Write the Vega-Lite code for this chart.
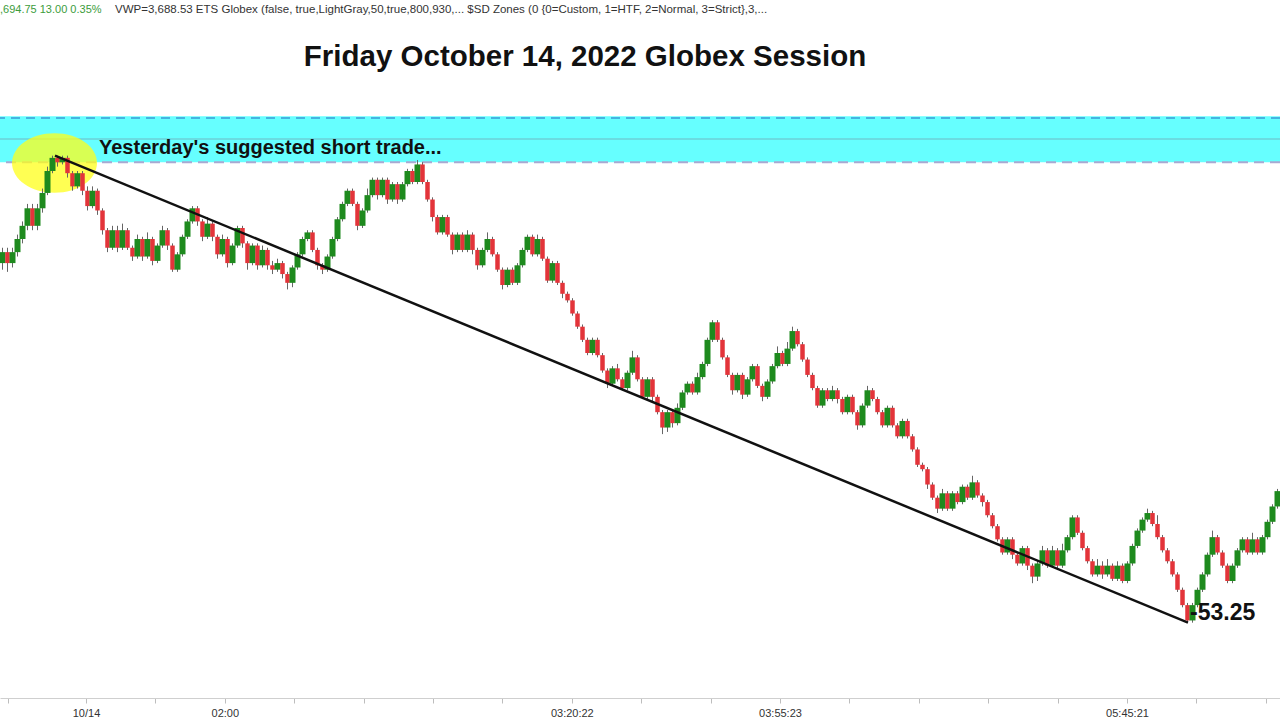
{
  "$schema": "https://vega.github.io/schema/vega-lite/v6.json",
  "width": 1280,
  "height": 698,
  "autosize": {"type": "none"},
  "padding": {"left": 0, "top": 0, "right": 0, "bottom": 22},
  "background": "white",
  "config": {"view": {"stroke": null}, "scale": {"continuousPadding": 0}},
  "datasets": {
    "candles": [
      {"i":0,"o":3721.25,"c":3722.5,"h":3723,"l":3720.5},
      {"i":1,"o":3722.5,"c":3721.25,"h":3723,"l":3720.25},
      {"i":2,"o":3721.25,"c":3722.5,"h":3723,"l":3720.75},
      {"i":3,"o":3722.5,"c":3724,"h":3724.5,"l":3722},
      {"i":4,"o":3724,"c":3725.5,"h":3726,"l":3723.5},
      {"i":5,"o":3725.5,"c":3727.5,"h":3728,"l":3725},
      {"i":6,"o":3727.5,"c":3725.5,"h":3728,"l":3725},
      {"i":7,"o":3725.5,"c":3727.5,"h":3728,"l":3725},
      {"i":8,"o":3727.5,"c":3729.25,"h":3729.75,"l":3727},
      {"i":9,"o":3729.25,"c":3731.75,"h":3732.25,"l":3729},
      {"i":10,"o":3731.75,"c":3733.25,"h":3733.5,"l":3731.5},
      {"i":11,"o":3733.25,"c":3732.75,"h":3733.5,"l":3732.25},
      {"i":12,"o":3732.75,"c":3733.25,"h":3733.5,"l":3732.5},
      {"i":13,"o":3733.25,"c":3731.5,"h":3733.5,"l":3731},
      {"i":14,"o":3731.5,"c":3730,"h":3731.75,"l":3729.5},
      {"i":15,"o":3730,"c":3731.5,"h":3731.75,"l":3729.75},
      {"i":16,"o":3731.5,"c":3729.5,"h":3731.75,"l":3729},
      {"i":17,"o":3729.5,"c":3727.75,"h":3730,"l":3727.25},
      {"i":18,"o":3727.75,"c":3729.5,"h":3730,"l":3727.5},
      {"i":19,"o":3729.5,"c":3727.25,"h":3729.75,"l":3726.75},
      {"i":20,"o":3727.25,"c":3725,"h":3727.5,"l":3724.5},
      {"i":21,"o":3725,"c":3723,"h":3725.25,"l":3722.5},
      {"i":22,"o":3723,"c":3725,"h":3725.5,"l":3722.75},
      {"i":23,"o":3725,"c":3723,"h":3725.5,"l":3722.5},
      {"i":24,"o":3723,"c":3725,"h":3725.75,"l":3722.75},
      {"i":25,"o":3725,"c":3723,"h":3725.25,"l":3722.75},
      {"i":26,"o":3723,"c":3722,"h":3723.25,"l":3721.5},
      {"i":27,"o":3722,"c":3724,"h":3724.5,"l":3721.75},
      {"i":28,"o":3724,"c":3722,"h":3724.25,"l":3721.5},
      {"i":29,"o":3722,"c":3724,"h":3724.75,"l":3721.75},
      {"i":30,"o":3724,"c":3721.5,"h":3724.25,"l":3721},
      {"i":31,"o":3721.5,"c":3723.25,"h":3723.5,"l":3721.25},
      {"i":32,"o":3723.25,"c":3725,"h":3725.5,"l":3723},
      {"i":33,"o":3725,"c":3723.25,"h":3725.25,"l":3722.75},
      {"i":34,"o":3723.25,"c":3720.5,"h":3723.5,"l":3720.25},
      {"i":35,"o":3720.5,"c":3722.25,"h":3722.5,"l":3720.25},
      {"i":36,"o":3722.25,"c":3724.25,"h":3724.5,"l":3722},
      {"i":37,"o":3724.25,"c":3726,"h":3726.25,"l":3724},
      {"i":38,"o":3726,"c":3727.5,"h":3727.75,"l":3725.75},
      {"i":39,"o":3727.5,"c":3726,"h":3727.75,"l":3725.5},
      {"i":40,"o":3726,"c":3724.25,"h":3726.25,"l":3723.75},
      {"i":41,"o":3724.25,"c":3725.75,"h":3726.5,"l":3724},
      {"i":42,"o":3725.75,"c":3724.25,"h":3726,"l":3723.75},
      {"i":43,"o":3724.25,"c":3722.25,"h":3724.5,"l":3721.75},
      {"i":44,"o":3722.25,"c":3724,"h":3724.5,"l":3722},
      {"i":45,"o":3724,"c":3721.25,"h":3724.25,"l":3720.75},
      {"i":46,"o":3721.25,"c":3723.25,"h":3723.5,"l":3721},
      {"i":47,"o":3723.25,"c":3725.25,"h":3725.5,"l":3723},
      {"i":48,"o":3725.25,"c":3723.5,"h":3725.5,"l":3723},
      {"i":49,"o":3723.5,"c":3721.25,"h":3723.75,"l":3720.5},
      {"i":50,"o":3721.25,"c":3723.25,"h":3723.5,"l":3721},
      {"i":51,"o":3723.25,"c":3721,"h":3723.5,"l":3720.5},
      {"i":52,"o":3721,"c":3722.75,"h":3723.25,"l":3720.75},
      {"i":53,"o":3722.75,"c":3721,"h":3723,"l":3720.5},
      {"i":54,"o":3721,"c":3720.5,"h":3721.5,"l":3720},
      {"i":55,"o":3720.5,"c":3721.25,"h":3721.75,"l":3720.25},
      {"i":56,"o":3721.25,"c":3720,"h":3721.5,"l":3719.5},
      {"i":57,"o":3720,"c":3719,"h":3720.25,"l":3718.25},
      {"i":58,"o":3719,"c":3720.75,"h":3721,"l":3718.5},
      {"i":59,"o":3720.75,"c":3722.25,"h":3722.5,"l":3720.5},
      {"i":60,"o":3722.25,"c":3724,"h":3724.25,"l":3722},
      {"i":61,"o":3724,"c":3724.75,"h":3725,"l":3723.75},
      {"i":62,"o":3724.75,"c":3722.75,"h":3725,"l":3722.5},
      {"i":63,"o":3722.75,"c":3721,"h":3723,"l":3720.5},
      {"i":64,"o":3721,"c":3720.5,"h":3721.25,"l":3720},
      {"i":65,"o":3720.5,"c":3722,"h":3722.25,"l":3720.25},
      {"i":66,"o":3722,"c":3724,"h":3724.25,"l":3721.75},
      {"i":67,"o":3724,"c":3726.25,"h":3726.5,"l":3723.75},
      {"i":68,"o":3726.25,"c":3728,"h":3728.25,"l":3726},
      {"i":69,"o":3728,"c":3729.5,"h":3729.75,"l":3727.75},
      {"i":70,"o":3729.5,"c":3728,"h":3729.75,"l":3727.75},
      {"i":71,"o":3728,"c":3725.5,"h":3728.25,"l":3725},
      {"i":72,"o":3725.5,"c":3727.25,"h":3727.5,"l":3725.25},
      {"i":73,"o":3727.25,"c":3729,"h":3729.75,"l":3727},
      {"i":74,"o":3729,"c":3730.75,"h":3731,"l":3728.75},
      {"i":75,"o":3730.75,"c":3729,"h":3731,"l":3728.5},
      {"i":76,"o":3729,"c":3730.75,"h":3731,"l":3728.75},
      {"i":77,"o":3730.75,"c":3728.5,"h":3731,"l":3728},
      {"i":78,"o":3728.5,"c":3730.25,"h":3730.5,"l":3728.25},
      {"i":79,"o":3730.25,"c":3728.5,"h":3730.5,"l":3728},
      {"i":80,"o":3728.5,"c":3730.25,"h":3730.5,"l":3728.25},
      {"i":81,"o":3730.25,"c":3731.75,"h":3732,"l":3730},
      {"i":82,"o":3731.75,"c":3730.5,"h":3732,"l":3730.25},
      {"i":83,"o":3730.5,"c":3732.5,"h":3733,"l":3730.25},
      {"i":84,"o":3732.5,"c":3730.5,"h":3732.75,"l":3730.25},
      {"i":85,"o":3730.5,"c":3728.5,"h":3730.75,"l":3728.25},
      {"i":86,"o":3728.5,"c":3726.5,"h":3728.75,"l":3726},
      {"i":87,"o":3726.5,"c":3724.75,"h":3726.75,"l":3724.5},
      {"i":88,"o":3724.75,"c":3726.5,"h":3726.75,"l":3724.5},
      {"i":89,"o":3726.5,"c":3724.5,"h":3726.75,"l":3724.25},
      {"i":90,"o":3724.5,"c":3722.75,"h":3724.75,"l":3722.25},
      {"i":91,"o":3722.75,"c":3724.5,"h":3724.75,"l":3722.5},
      {"i":92,"o":3724.5,"c":3722.75,"h":3724.75,"l":3722.5},
      {"i":93,"o":3722.75,"c":3724.5,"h":3725,"l":3722.5},
      {"i":94,"o":3724.5,"c":3722.75,"h":3724.75,"l":3722.25},
      {"i":95,"o":3722.75,"c":3721,"h":3723,"l":3720.5},
      {"i":96,"o":3721,"c":3722.75,"h":3723,"l":3720.75},
      {"i":97,"o":3722.75,"c":3724,"h":3724.75,"l":3722.5},
      {"i":98,"o":3724,"c":3722.25,"h":3724.25,"l":3722},
      {"i":99,"o":3722.25,"c":3720.5,"h":3722.5,"l":3720.25},
      {"i":100,"o":3720.5,"c":3718.75,"h":3720.75,"l":3718.25},
      {"i":101,"o":3718.75,"c":3720.5,"h":3720.75,"l":3718.5},
      {"i":102,"o":3720.5,"c":3719,"h":3720.75,"l":3718.75},
      {"i":103,"o":3719,"c":3721,"h":3721.25,"l":3718.75},
      {"i":104,"o":3721,"c":3722.75,"h":3723,"l":3720.75},
      {"i":105,"o":3722.75,"c":3724.25,"h":3724.5,"l":3722.5},
      {"i":106,"o":3724.25,"c":3722.25,"h":3724.5,"l":3722},
      {"i":107,"o":3722.25,"c":3724,"h":3724.5,"l":3722},
      {"i":108,"o":3724,"c":3721.75,"h":3724.25,"l":3721.5},
      {"i":109,"o":3721.75,"c":3719.25,"h":3722,"l":3719},
      {"i":110,"o":3719.25,"c":3721.25,"h":3721.5,"l":3719},
      {"i":111,"o":3721.25,"c":3719,"h":3721.5,"l":3718.75},
      {"i":112,"o":3719,"c":3717.75,"h":3719.25,"l":3717.25},
      {"i":113,"o":3717.75,"c":3717,"h":3718,"l":3716.75},
      {"i":114,"o":3717,"c":3715.5,"h":3717.25,"l":3715.25},
      {"i":115,"o":3715.5,"c":3714,"h":3715.75,"l":3713.75},
      {"i":116,"o":3714,"c":3712.5,"h":3714.25,"l":3712.25},
      {"i":117,"o":3712.5,"c":3711,"h":3712.75,"l":3710.75},
      {"i":118,"o":3711,"c":3712.5,"h":3712.75,"l":3710.75},
      {"i":119,"o":3712.5,"c":3710.75,"h":3712.75,"l":3710.5},
      {"i":120,"o":3710.75,"c":3709,"h":3711,"l":3708.75},
      {"i":121,"o":3709,"c":3707.5,"h":3709.25,"l":3707},
      {"i":122,"o":3707.5,"c":3709.25,"h":3709.5,"l":3707.25},
      {"i":123,"o":3709.25,"c":3708,"h":3709.75,"l":3707.75},
      {"i":124,"o":3708,"c":3707,"h":3708.25,"l":3706.75},
      {"i":125,"o":3707,"c":3708.75,"h":3709,"l":3706.75},
      {"i":126,"o":3708.75,"c":3710.5,"h":3711.25,"l":3708.5},
      {"i":127,"o":3710.5,"c":3708,"h":3710.75,"l":3707.75},
      {"i":128,"o":3708,"c":3706,"h":3708.25,"l":3705.75},
      {"i":129,"o":3706,"c":3708,"h":3708.25,"l":3705.75},
      {"i":130,"o":3708,"c":3706,"h":3708.25,"l":3705.5},
      {"i":131,"o":3706,"c":3704.25,"h":3706.25,"l":3704},
      {"i":132,"o":3704.25,"c":3702.5,"h":3704.5,"l":3701.75},
      {"i":133,"o":3702.5,"c":3704.25,"h":3704.5,"l":3702},
      {"i":134,"o":3704.25,"c":3703,"h":3704.5,"l":3702.5},
      {"i":135,"o":3703,"c":3704.75,"h":3705.25,"l":3702.75},
      {"i":136,"o":3704.75,"c":3706.5,"h":3706.75,"l":3704.5},
      {"i":137,"o":3706.5,"c":3707.5,"h":3707.75,"l":3706.25},
      {"i":138,"o":3707.5,"c":3706.5,"h":3707.75,"l":3706.25},
      {"i":139,"o":3706.5,"c":3708.25,"h":3708.75,"l":3706.25},
      {"i":140,"o":3708.25,"c":3709.75,"h":3710,"l":3708},
      {"i":141,"o":3709.75,"c":3712.5,"h":3712.75,"l":3709.5},
      {"i":142,"o":3712.5,"c":3714.5,"h":3714.75,"l":3712.25},
      {"i":143,"o":3714.5,"c":3712.5,"h":3714.75,"l":3712.25},
      {"i":144,"o":3712.5,"c":3710.5,"h":3712.75,"l":3710.25},
      {"i":145,"o":3710.5,"c":3708.5,"h":3710.75,"l":3708.25},
      {"i":146,"o":3708.5,"c":3706.75,"h":3708.75,"l":3706.25},
      {"i":147,"o":3706.75,"c":3708.5,"h":3708.75,"l":3706.5},
      {"i":148,"o":3708.5,"c":3706.25,"h":3708.75,"l":3705.75},
      {"i":149,"o":3706.25,"c":3708,"h":3708.25,"l":3706},
      {"i":150,"o":3708,"c":3709.5,"h":3709.75,"l":3707.75},
      {"i":151,"o":3709.5,"c":3707.25,"h":3709.75,"l":3707},
      {"i":152,"o":3707.25,"c":3706,"h":3707.5,"l":3705.5},
      {"i":153,"o":3706,"c":3707.75,"h":3708,"l":3705.75},
      {"i":154,"o":3707.75,"c":3709.5,"h":3709.75,"l":3707.5},
      {"i":155,"o":3709.5,"c":3711,"h":3711.75,"l":3709.25},
      {"i":156,"o":3711,"c":3709.75,"h":3711.25,"l":3709.5},
      {"i":157,"o":3709.75,"c":3711.5,"h":3712.25,"l":3709.5},
      {"i":158,"o":3711.5,"c":3713.5,"h":3714,"l":3711.25},
      {"i":159,"o":3713.5,"c":3712,"h":3713.75,"l":3711.75},
      {"i":160,"o":3712,"c":3710.25,"h":3712.25,"l":3710},
      {"i":161,"o":3710.25,"c":3708.5,"h":3710.5,"l":3708.25},
      {"i":162,"o":3708.5,"c":3707,"h":3708.75,"l":3706.75},
      {"i":163,"o":3707,"c":3705,"h":3707.25,"l":3704.75},
      {"i":164,"o":3705,"c":3706.75,"h":3707,"l":3704.75},
      {"i":165,"o":3706.75,"c":3705.75,"h":3707,"l":3705.5},
      {"i":166,"o":3705.75,"c":3706.75,"h":3707.25,"l":3705.5},
      {"i":167,"o":3706.75,"c":3705.75,"h":3707,"l":3705.25},
      {"i":168,"o":3705.75,"c":3704.25,"h":3706,"l":3704},
      {"i":169,"o":3704.25,"c":3706,"h":3706.25,"l":3704},
      {"i":170,"o":3706,"c":3704.25,"h":3706.25,"l":3704},
      {"i":171,"o":3704.25,"c":3702.75,"h":3704.5,"l":3702.25},
      {"i":172,"o":3702.75,"c":3705,"h":3705.25,"l":3702.5},
      {"i":173,"o":3705,"c":3706.75,"h":3707.25,"l":3704.75},
      {"i":174,"o":3706.75,"c":3705.75,"h":3707,"l":3705.5},
      {"i":175,"o":3705.75,"c":3704.25,"h":3706,"l":3704},
      {"i":176,"o":3704.25,"c":3702.75,"h":3704.5,"l":3702.5},
      {"i":177,"o":3702.75,"c":3704.75,"h":3705,"l":3702.5},
      {"i":178,"o":3704.75,"c":3702.75,"h":3705,"l":3702.5},
      {"i":179,"o":3702.75,"c":3701.5,"h":3703,"l":3701.25},
      {"i":180,"o":3701.5,"c":3703.25,"h":3703.5,"l":3701.25},
      {"i":181,"o":3703.25,"c":3701.5,"h":3703.5,"l":3701.25},
      {"i":182,"o":3701.5,"c":3700,"h":3701.75,"l":3699.75},
      {"i":183,"o":3700,"c":3698.25,"h":3700.25,"l":3698},
      {"i":184,"o":3698.25,"c":3697.75,"h":3698.5,"l":3697.5},
      {"i":185,"o":3697.75,"c":3696,"h":3698,"l":3695.5},
      {"i":186,"o":3696,"c":3694.5,"h":3696.25,"l":3694.25},
      {"i":187,"o":3694.5,"c":3693.25,"h":3694.75,"l":3692.75},
      {"i":188,"o":3693.25,"c":3695,"h":3695.5,"l":3693},
      {"i":189,"o":3695,"c":3693.25,"h":3695.25,"l":3693},
      {"i":190,"o":3693.25,"c":3695,"h":3695.25,"l":3693},
      {"i":191,"o":3695,"c":3694,"h":3695.25,"l":3693.75},
      {"i":192,"o":3694,"c":3695.75,"h":3696,"l":3693.75},
      {"i":193,"o":3695.75,"c":3694.5,"h":3696,"l":3694.25},
      {"i":194,"o":3694.5,"c":3696.25,"h":3697,"l":3694.25},
      {"i":195,"o":3696.25,"c":3694.75,"h":3696.5,"l":3694.5},
      {"i":196,"o":3694.75,"c":3694,"h":3695,"l":3693.5},
      {"i":197,"o":3694,"c":3692.5,"h":3694.25,"l":3692.25},
      {"i":198,"o":3692.5,"c":3691.25,"h":3692.75,"l":3691},
      {"i":199,"o":3691.25,"c":3689.75,"h":3691.5,"l":3689.5},
      {"i":200,"o":3689.75,"c":3688.25,"h":3690,"l":3688},
      {"i":201,"o":3688.25,"c":3689.75,"h":3690,"l":3688},
      {"i":202,"o":3689.75,"c":3688,"h":3690,"l":3687.5},
      {"i":203,"o":3688,"c":3687,"h":3688.25,"l":3686.75},
      {"i":204,"o":3687,"c":3688.75,"h":3689,"l":3686.75},
      {"i":205,"o":3688.75,"c":3686.75,"h":3689,"l":3686.25},
      {"i":206,"o":3686.75,"c":3685.5,"h":3687,"l":3684.75},
      {"i":207,"o":3685.5,"c":3687,"h":3687.25,"l":3685},
      {"i":208,"o":3687,"c":3688.5,"h":3689,"l":3686.75},
      {"i":209,"o":3688.5,"c":3686.75,"h":3688.75,"l":3686.5},
      {"i":210,"o":3686.75,"c":3688.5,"h":3689,"l":3686.5},
      {"i":211,"o":3688.5,"c":3686.75,"h":3688.75,"l":3686.25},
      {"i":212,"o":3686.75,"c":3688.5,"h":3689.25,"l":3686.5},
      {"i":213,"o":3688.5,"c":3690,"h":3690.25,"l":3688.25},
      {"i":214,"o":3690,"c":3692.25,"h":3692.5,"l":3689.75},
      {"i":215,"o":3692.25,"c":3690.5,"h":3692.5,"l":3690.25},
      {"i":216,"o":3690.5,"c":3688.75,"h":3690.75,"l":3688.5},
      {"i":217,"o":3688.75,"c":3687.25,"h":3689,"l":3687},
      {"i":218,"o":3687.25,"c":3685.75,"h":3687.5,"l":3685.5},
      {"i":219,"o":3685.75,"c":3686.75,"h":3687.5,"l":3685.5},
      {"i":220,"o":3686.75,"c":3685.75,"h":3687.25,"l":3685.25},
      {"i":221,"o":3685.75,"c":3686.75,"h":3687.5,"l":3685.5},
      {"i":222,"o":3686.75,"c":3685.25,"h":3687,"l":3685},
      {"i":223,"o":3685.25,"c":3686.75,"h":3687.25,"l":3685},
      {"i":224,"o":3686.75,"c":3685,"h":3687,"l":3684.75},
      {"i":225,"o":3685,"c":3687,"h":3687.25,"l":3684.75},
      {"i":226,"o":3687,"c":3689,"h":3689.25,"l":3686.75},
      {"i":227,"o":3689,"c":3690.75,"h":3691,"l":3688.75},
      {"i":228,"o":3690.75,"c":3692,"h":3692.25,"l":3690.5},
      {"i":229,"o":3692,"c":3692.75,"h":3693.25,"l":3691.75},
      {"i":230,"o":3692.75,"c":3691.5,"h":3693,"l":3691.25},
      {"i":231,"o":3691.5,"c":3690,"h":3692.5,"l":3689.75},
      {"i":232,"o":3690,"c":3688.5,"h":3690.25,"l":3688.25},
      {"i":233,"o":3688.5,"c":3687.25,"h":3688.75,"l":3687},
      {"i":234,"o":3687.25,"c":3685.75,"h":3687.5,"l":3685.5},
      {"i":235,"o":3685.75,"c":3684,"h":3686,"l":3683.75},
      {"i":236,"o":3684,"c":3682.25,"h":3684.25,"l":3682},
      {"i":237,"o":3682.25,"c":3680.5,"h":3682.5,"l":3680.25},
      {"i":238,"o":3680.5,"c":3682.25,"h":3682.5,"l":3680.25},
      {"i":239,"o":3682.25,"c":3684,"h":3684.25,"l":3682},
      {"i":240,"o":3684,"c":3685.75,"h":3686,"l":3683.75},
      {"i":241,"o":3685.75,"c":3688,"h":3688.25,"l":3685.5},
      {"i":242,"o":3688,"c":3690,"h":3690.75,"l":3687.75},
      {"i":243,"o":3690,"c":3688.25,"h":3690.25,"l":3688},
      {"i":244,"o":3688.25,"c":3686.75,"h":3688.5,"l":3686.5},
      {"i":245,"o":3686.75,"c":3685,"h":3687,"l":3684.75},
      {"i":246,"o":3685,"c":3686.75,"h":3687,"l":3684.75},
      {"i":247,"o":3686.75,"c":3688.5,"h":3688.75,"l":3686.5},
      {"i":248,"o":3688.5,"c":3689.75,"h":3690,"l":3688.25},
      {"i":249,"o":3689.75,"c":3688.25,"h":3690,"l":3688},
      {"i":250,"o":3688.25,"c":3689.75,"h":3690.5,"l":3688},
      {"i":251,"o":3689.75,"c":3688.25,"h":3690,"l":3688},
      {"i":252,"o":3688.25,"c":3690,"h":3690.25,"l":3688},
      {"i":253,"o":3690,"c":3691.75,"h":3692,"l":3689.75},
      {"i":254,"o":3691.75,"c":3693.5,"h":3693.75,"l":3691.5},
      {"i":255,"o":3693.5,"c":3695.25,"h":3695.5,"l":3693.25}
    ],
    "trend": [
      {"i": 10.5, "p": 3733.5},
      {"i": 237.1, "p": 3680.25}
    ],
    "zone": [
      {"top": 3738.0, "bottom": 3732.75, "upper": 3737.8, "mid": 3735.4, "lower": 3732.75}
    ]
  },
  "layer": [
    {
      "data": {"name": "zone"},
      "mark": {"type": "rect", "color": "#66ffff"},
      "encoding": {
        "y": {"field": "top", "type": "quantitative", "scale": {"domain": [3671.66, 3751.25], "nice": false, "zero": false, "padding": 0}, "axis": null},
        "y2": {"field": "bottom"}
      }
    },
    {
      "data": {"name": "zone"},
      "mark": {"type": "rule", "color": "#3d9bd6", "strokeWidth": 1.5, "strokeDash": [9, 6]},
      "encoding": {
        "y": {"field": "upper", "type": "quantitative", "scale": {"domain": [3671.66, 3751.25], "nice": false, "zero": false, "padding": 0}, "axis": null}
      }
    },
    {
      "data": {"name": "zone"},
      "mark": {"type": "rule", "color": "#6fb9c4", "strokeWidth": 1},
      "encoding": {
        "y": {"field": "mid", "type": "quantitative", "scale": {"domain": [3671.66, 3751.25], "nice": false, "zero": false, "padding": 0}, "axis": null}
      }
    },
    {
      "data": {"name": "zone"},
      "mark": {"type": "rule", "color": "#a9a9d2", "strokeWidth": 2, "strokeDash": [10, 6]},
      "encoding": {
        "y": {"field": "lower", "type": "quantitative", "scale": {"domain": [3671.66, 3751.25], "nice": false, "zero": false, "padding": 0}, "axis": null}
      }
    },
    {
      "data": {"values": [{"i": 10.4, "p": 3732.66}]},
      "mark": {"type": "point", "shape": "M-1,0A1,0.7,0,1,1,1,0A1,0.7,0,1,1,-1,0Z", "size": 7225, "filled": true, "color": "#ffff1a", "opacity": 0.75},
      "encoding": {
        "x": {"field": "i", "type": "quantitative", "scale": {"domain": [-0.5, 255.5], "nice": false, "zero": false, "padding": 0}},
        "y": {"field": "p", "type": "quantitative", "scale": {"domain": [3671.66, 3751.25], "nice": false, "zero": false, "padding": 0}, "axis": null}
      }
    },
    {
      "data": {"name": "candles"},
      "mark": {"type": "rule", "color": "#666666", "strokeWidth": 1},
      "encoding": {
        "x": {"field": "i", "type": "quantitative", "scale": {"domain": [-0.5, 255.5], "nice": false, "zero": false, "padding": 0}},
        "y": {"field": "h", "type": "quantitative", "scale": {"domain": [3671.66, 3751.25], "nice": false, "zero": false, "padding": 0}, "axis": null},
        "y2": {"field": "l"}
      }
    },
    {
      "data": {"name": "candles"},
      "mark": {"type": "bar"},
      "encoding": {
        "x": {
          "field": "i", "type": "quantitative",
          "scale": {"domain": [-0.5, 255.5], "nice": false, "zero": false, "padding": 0},
          "axis": {
            "title": null, "grid": false,
            "values": [1.1, 16.7, 30.58, 44.46, 58.34, 72.22, 86.1, 99.98, 113.86, 127.74, 141.62, 155.5, 169.38, 183.26, 197.14, 211.02, 224.9, 238.78, 252.66],
            "labelExpr": "round(datum.value) == 17 ? '10/14' : round(datum.value) == 44 ? '02:00' : round(datum.value) == 114 ? '03:20:22' : round(datum.value) == 156 ? '03:55:23' : round(datum.value) == 225 ? '05:45:21' : ''",
            "domainColor": "#cfcfcf", "tickColor": "#bdbdbd", "tickSize": 5,
            "labelFont": "Liberation Sans", "labelFontSize": 11, "labelColor": "#333333", "labelPadding": 4, "labelOverlap": false, "labelFlush": false
          }
        },
        "y": {"field": "o", "type": "quantitative", "scale": {"domain": [3671.66, 3751.25], "nice": false, "zero": false, "padding": 0}, "axis": null},
        "y2": {"field": "c"},
        "size": {"condition": {"test": "datum.c >= datum.o", "value": 6}, "value": 4.5},
        "color": {"condition": {"test": "datum.c >= datum.o", "value": "#1e8a1e"}, "value": "#e3343a"}
      }
    },
    {
      "data": {"name": "trend"},
      "mark": {"type": "line", "color": "#111111", "strokeWidth": 2.5},
      "encoding": {
        "x": {"field": "i", "type": "quantitative", "scale": {"domain": [-0.5, 255.5], "nice": false, "zero": false, "padding": 0}},
        "y": {"field": "p", "type": "quantitative", "scale": {"domain": [3671.66, 3751.25], "nice": false, "zero": false, "padding": 0}, "axis": null}
      }
    },
    {
      "data": {"values": [{"label": "Yesterday's suggested short trade..."}]},
      "mark": {"type": "text", "align": "left", "baseline": "middle", "font": "Liberation Sans", "fontWeight": "bold", "fontSize": 20, "color": "#111111"},
      "encoding": {
        "x": {"datum": 19.3, "type": "quantitative", "scale": {"domain": [-0.5, 255.5], "nice": false, "zero": false, "padding": 0}},
        "y": {"datum": 3734.37, "type": "quantitative", "scale": {"domain": [3671.66, 3751.25], "nice": false, "zero": false, "padding": 0}, "axis": null},
        "text": {"field": "label"}
      }
    },
    {
      "data": {"values": [{"label": "-53.25"}]},
      "mark": {"type": "text", "align": "left", "baseline": "middle", "font": "Liberation Sans", "fontWeight": "bold", "fontSize": 23, "color": "#111111"},
      "encoding": {
        "x": {"datum": 237.5, "type": "quantitative", "scale": {"domain": [-0.5, 255.5], "nice": false, "zero": false, "padding": 0}},
        "y": {"datum": 3681.35, "type": "quantitative", "scale": {"domain": [3671.66, 3751.25], "nice": false, "zero": false, "padding": 0}, "axis": null},
        "text": {"field": "label"}
      }
    },
    {
      "data": {"values": [{"label": "Friday October 14, 2022 Globex Session"}]},
      "mark": {"type": "text", "align": "center", "baseline": "middle", "font": "Liberation Sans", "fontWeight": "bold", "fontSize": 29.5, "color": "#111111"},
      "encoding": {
        "x": {"datum": 116.5, "type": "quantitative", "scale": {"domain": [-0.5, 255.5], "nice": false, "zero": false, "padding": 0}},
        "y": {"datum": 3744.75, "type": "quantitative", "scale": {"domain": [3671.66, 3751.25], "nice": false, "zero": false, "padding": 0}, "axis": null},
        "text": {"field": "label"}
      }
    },
    {
      "data": {"values": [{"label": ",694.75  13.00  0.35%"}]},
      "mark": {"type": "text", "align": "left", "baseline": "middle", "font": "Liberation Sans", "fontSize": 11, "color": "#3c9c3c"},
      "encoding": {
        "x": {"datum": -0.5, "type": "quantitative", "scale": {"domain": [-0.5, 255.5], "nice": false, "zero": false, "padding": 0}},
        "y": {"datum": 3750.1, "type": "quantitative", "scale": {"domain": [3671.66, 3751.25], "nice": false, "zero": false, "padding": 0}, "axis": null},
        "text": {"field": "label"}
      }
    },
    {
      "data": {"values": [{"label": "VWP=3,688.53  ETS Globex (false,  true,LightGray,50,true,800,930,...   $SD Zones (0  {0=Custom, 1=HTF, 2=Normal, 3=Strict},3,..."}]},
      "mark": {"type": "text", "align": "left", "baseline": "middle", "font": "Liberation Sans", "fontSize": 11.5, "color": "#333333"},
      "encoding": {
        "x": {"datum": 22.5, "type": "quantitative", "scale": {"domain": [-0.5, 255.5], "nice": false, "zero": false, "padding": 0}},
        "y": {"datum": 3750.1, "type": "quantitative", "scale": {"domain": [3671.66, 3751.25], "nice": false, "zero": false, "padding": 0}, "axis": null},
        "text": {"field": "label"}
      }
    }
  ]
}
